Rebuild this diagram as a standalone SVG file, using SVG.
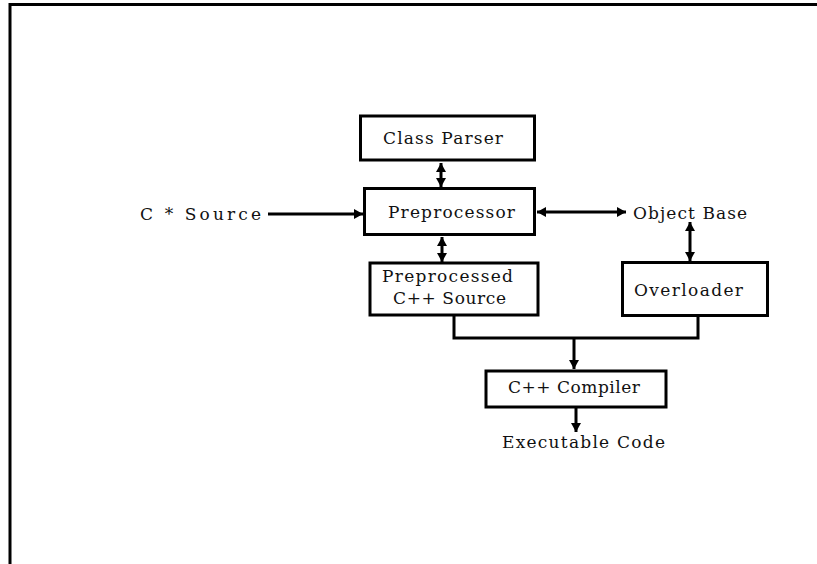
<svg xmlns="http://www.w3.org/2000/svg" width="817" height="564" viewBox="0 0 817 564">
<style>
.box{fill:#fff;stroke:#000;stroke-width:3}
.ln{fill:none;stroke:#000;stroke-width:3}
.t{font-family:"DejaVu Serif","Liberation Serif",serif;font-size:17px;fill:#111}
</style>
<defs>
<marker id="ah" markerUnits="userSpaceOnUse" markerWidth="12" markerHeight="12" refX="9" refY="5" orient="auto-start-reverse">
<path d="M0,0 L9,5 L0,10 Z" fill="#000"/>
</marker>
</defs>
<rect width="817" height="564" fill="#fff"/>
<path d="M10,564 V4.5 H817" fill="none" stroke="#000" stroke-width="3"/>
<g id="connectors">
<line class="ln" x1="441" y1="163" x2="441" y2="187" marker-start="url(#ah)" marker-end="url(#ah)"/>
<line class="ln" x1="268" y1="214" x2="363" y2="214" marker-end="url(#ah)"/>
<line class="ln" x1="537" y1="212" x2="626" y2="212" marker-start="url(#ah)" marker-end="url(#ah)"/>
<line class="ln" x1="442" y1="237" x2="442" y2="262" marker-start="url(#ah)" marker-end="url(#ah)"/>
<line class="ln" x1="690" y1="222" x2="690" y2="261" marker-start="url(#ah)" marker-end="url(#ah)"/>
<path class="ln" d="M454,316 V338 H698 V316"/>
<line class="ln" x1="574" y1="338" x2="574" y2="369" marker-end="url(#ah)"/>
<line class="ln" x1="576" y1="408" x2="576" y2="432" marker-end="url(#ah)"/>
</g>
<g id="class-parser">
<rect class="box" x="360.5" y="116" width="174" height="44"/>
<text class="t" x="383" y="144" textLength="120">Class Parser</text>
</g>
<g id="c-source">
<text class="t" x="140" y="220" textLength="121">C *  Source</text>
</g>
<g id="preprocessor">
<rect class="box" x="364.5" y="188.5" width="170" height="46"/>
<text class="t" x="388" y="218" textLength="127">Preprocessor</text>
</g>
<g id="object-base">
<text class="t" x="633" y="219" textLength="114">Object Base</text>
</g>
<g id="preprocessed">
<rect class="box" x="370" y="263" width="168" height="52"/>
<text class="t" x="382" y="282" textLength="131">Preprocessed</text>
<text class="t" x="393" y="304" textLength="113">C++ Source</text>
</g>
<g id="overloader">
<rect class="box" x="622.5" y="262.5" width="145" height="53"/>
<text class="t" x="634" y="296" textLength="109">Overloader</text>
</g>
<g id="compiler">
<rect class="box" x="486" y="371" width="180" height="36"/>
<text class="t" x="508" y="393" textLength="132">C++ Compiler</text>
</g>
<g id="executable">
<text class="t" x="502" y="448" textLength="163">Executable Code</text>
</g>
</svg>
